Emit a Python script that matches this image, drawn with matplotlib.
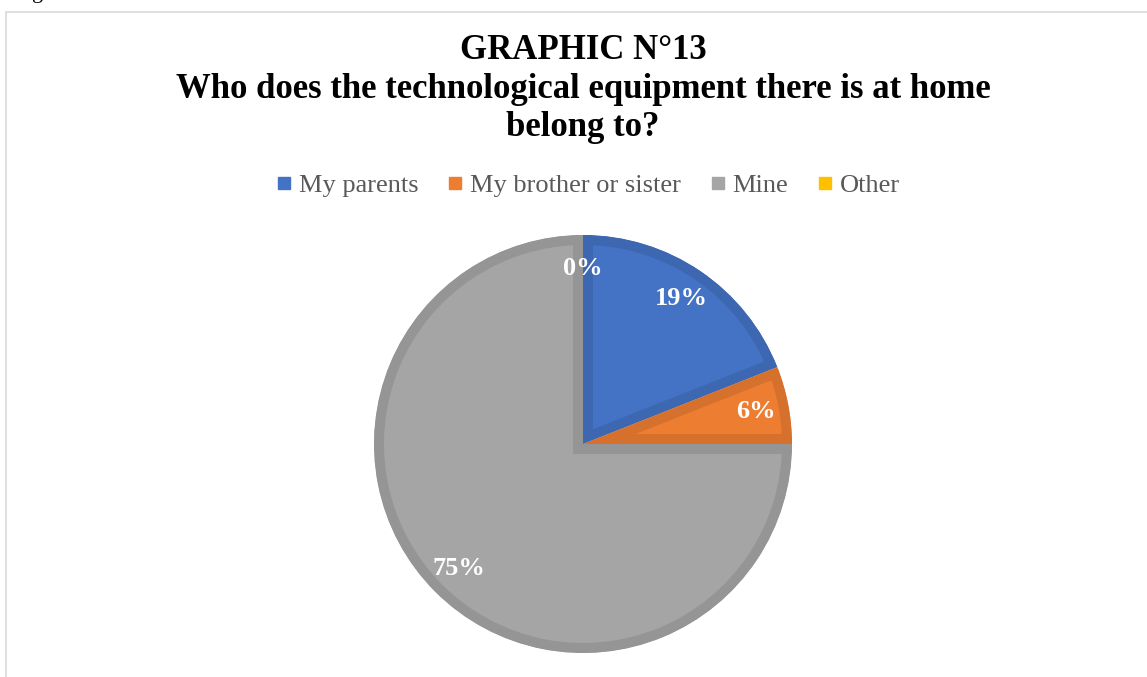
import matplotlib.pyplot as plt
from matplotlib.patches import Rectangle
from matplotlib.lines import Line2D

# survey answers, share of each owner
owners = ["My parents", "My brother or sister", "Mine", "Other"]
shares = [19, 6, 75, 0]
colors = ["#4472C4", "#ED7D31", "#A5A5A5", "#FFC000"]
edges = ["#3E67B1", "#D5712C", "#959595", "#E6AD00"]

plt.rcParams['font.family'] = ['Liberation Serif', 'DejaVu Serif']

W, H = 1147, 677
fig = plt.figure(figsize=(W / 100, H / 100), dpi=100)
fig.patch.set_facecolor("white")

# frame of the chart area (runs off the right and bottom edges)
fig.patches.append(Rectangle((6 / W, -0.2), 1.2, 1.2 - 12 / H,
                             transform=fig.transFigure, fill=False,
                             edgecolor="#D9D9D9", linewidth=1.2))
# bit of the caption above the chart
fig.text(32 / W, 1 + 2 / H, "g", fontsize=16, color="black", va="baseline")

fig.text(583 / W, 1 - 34 / H,
         "GRAPHIC N°13\nWho does the technological equipment there is at home\nbelong to?",
         ha="center", va="top", fontsize=25, fontweight="bold",
         linespacing=1.22, color="black")

# pie
cx, cy, r = 583, 444, 209
ax = fig.add_axes([(cx - r) / W, (H - cy - r) / H, 2 * r / W, 2 * r / H])
wedges, texts, autotexts = ax.pie(
    shares, colors=colors, startangle=90, counterclock=False,
    autopct="%.0f%%", pctdistance=0.84,
    textprops=dict(color="white", fontsize=19, fontweight="bold"))
for w, ec, s in zip(wedges, edges, shares):
    # darker border drawn only on the inside of each slice
    w.set_edgecolor(ec)
    w.set_linewidth(14.4 if s > 0 else 0)
    w.set_clip_on(True)
    w.set_clip_path(w)
ax.set_xlim(-1, 1)
ax.set_ylim(-1, 1)
ax.set_aspect("equal")
ax.axis("off")

handles = [Line2D([], [], marker="s", linestyle="none", markersize=8.5,
                  markerfacecolor=c, markeredgecolor=c) for c in colors]
fig.legend(handles, owners, loc="center", bbox_to_anchor=(588 / W, 1 - 185 / H),
           ncol=4, frameon=False, fontsize=19, labelcolor="#595959",
           handlelength=0.6, handletextpad=0.25, columnspacing=1.1)

plt.savefig("out.png", dpi=100)
